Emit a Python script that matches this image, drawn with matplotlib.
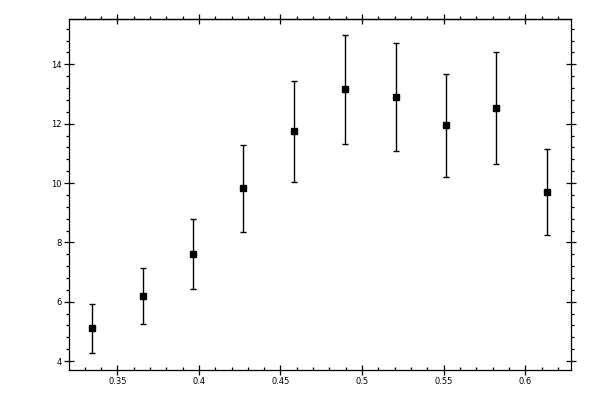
import matplotlib
matplotlib.use("Agg")
import matplotlib.pyplot as plt
from matplotlib.ticker import MultipleLocator, FuncFormatter

x_values = [0.3347, 0.3660, 0.3966, 0.4273, 0.4586, 0.4895, 0.5206, 0.5513, 0.5822, 0.6133]
y_values = [5.10, 6.18, 7.60, 9.82, 11.74, 13.16, 12.89, 11.94, 12.52, 9.69]
y_errors = [0.84, 0.94, 1.18, 1.47, 1.70, 1.84, 1.82, 1.73, 1.88, 1.45]

fig = plt.figure(figsize=(6, 4), dpi=100)
ax = fig.add_axes([0.1155, 0.075, 0.8355, 0.877])

ax.errorbar(x_values, y_values, yerr=y_errors, fmt='s', color='black',
            markersize=4.8, elinewidth=1.0, capsize=2.0, capthick=1.0,
            ecolor='black')

ax.set_xlim(0.3206, 0.6278)
ax.set_ylim(3.70, 15.52)

ax.xaxis.set_major_locator(MultipleLocator(0.05))
ax.xaxis.set_minor_locator(MultipleLocator(0.01))
ax.yaxis.set_major_locator(MultipleLocator(2))
ax.yaxis.set_minor_locator(MultipleLocator(0.4))

def fmt(v, pos):
    s = ('%.2f' % v).rstrip('0').rstrip('.')
    return s
ax.xaxis.set_major_formatter(FuncFormatter(fmt))
ax.yaxis.set_major_formatter(FuncFormatter(lambda v, p: '%d' % round(v)))

for sp in ax.spines.values():
    sp.set_linewidth(0.9)

ax.tick_params(which='major', direction='inout', length=6.5, width=0.9,
               top=True, right=True, labelsize=6, pad=2)
ax.tick_params(axis='x', which='minor', direction='in', length=2.3, width=0.9,
               top=False, bottom=True)
ax.tick_params(axis='y', which='minor', direction='out', length=2.3, width=0.9,
               left=True, right=True)
# top minor ticks outward
ax2 = ax.secondary_xaxis('top')
ax2.xaxis.set_major_locator(MultipleLocator(0.05))
ax2.xaxis.set_minor_locator(MultipleLocator(0.01))
ax2.tick_params(which='major', direction='inout', length=6.5, width=0.9, labeltop=False)
ax2.tick_params(which='minor', direction='out', length=2.3, width=0.9)
ax2.spines['top'].set_linewidth(0.9)
ax.tick_params(axis='x', which='major', top=False)

fig.savefig('out.png', dpi=100)
